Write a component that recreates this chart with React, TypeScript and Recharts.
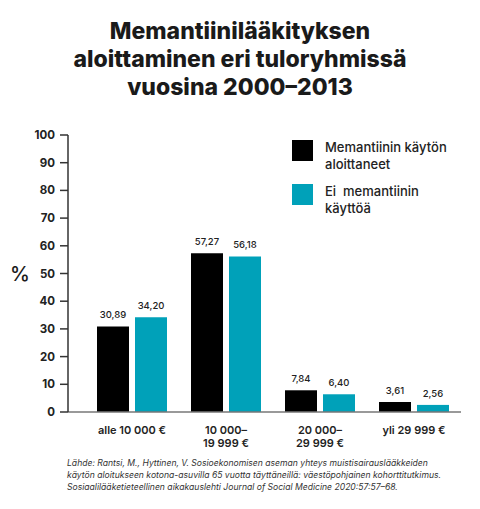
import React from "react";
import { Bar, BarChart, LabelList, Legend, XAxis, YAxis } from "recharts";

const TULORYHMAT = ["alle 10 000 €", "10 000–\n19 999 €", "20 000–\n29 999 €", "yli 29 999 €"];
const ALOITTANEET = [30.89, 57.27, 7.84, 3.61];
const EI_KAYTTOA = [34.2, 56.18, 6.4, 2.56];
const Y_TICKS = [0, 10, 20, 30, 40, 50, 60, 70, 80, 90, 100];

const MUSTA = "#000000";
const TURKOOSI = "#00a1b9";
const FONTTI = "Inter, 'Noto Sans', sans-serif";

const data = TULORYHMAT.map((ryhma, i) => ({
  ryhma,
  aloittaneet: ALOITTANEET[i],
  ei: EI_KAYTTOA[i],
}));

const muoto = (v: number) => v.toFixed(2).replace(".", ",");

function XTick({ x, y, payload }: any) {
  const rivit = String(payload.value).split("\n");
  return (
    <text x={x} y={y} textAnchor="middle" fontSize={11} fontWeight={600} fill="#222" fontFamily={FONTTI}>
      {rivit.map((r, i) => (
        <tspan key={i} x={x} dy={i === 0 ? 14 : 13}>
          {r}
        </tspan>
      ))}
    </text>
  );
}

function Selite({ payload }: any) {
  return (
    <div style={{ fontFamily: FONTTI }}>
      {payload.map((p: any) => (
        <div key={p.value} style={{ display: "flex", alignItems: "flex-start", marginBottom: 10 }}>
          <div style={{ width: 21, height: 21, background: p.color, marginRight: 12, marginTop: 1 }} />
          <div style={{ fontSize: 13, fontWeight: 500, lineHeight: "17px", color: "#222", whiteSpace: "pre" }}>
            {p.value}
          </div>
        </div>
      ))}
    </div>
  );
}

export default function App() {
  return (
    <div style={{ position: "absolute", left: 0, top: 0, width: 480, height: 509, background: "#fff", fontFamily: FONTTI }}>
      <div
        style={{
          position: "absolute",
          top: 17,
          left: 0,
          width: 480,
          textAlign: "center",
          fontSize: 23,
          fontWeight: 800,
          lineHeight: "28px",
          color: "#1a1a1a",
        }}
      >
        Memantiinilääkityksen
        <br />
        aloittaminen eri tuloryhmissä
        <br />
        vuosina 2000–2013
      </div>
      <div style={{ position: "absolute", left: 10, top: 262, fontSize: 20, fontWeight: 500, color: "#1a1a1a" }}>%</div>
      <div style={{ position: "absolute", left: 0, top: 0 }}>
        <BarChart
          width={480}
          height={509}
          data={data}
          margin={{ top: 135, right: 19, bottom: 67, left: 28 }}
          barSize={32}
          barGap={6}
        >
          <XAxis
            dataKey="ryhma"
            tick={<XTick />}
            tickLine={false}
            axisLine={{ stroke: "#777", strokeWidth: 1.5 }}
            padding={{ left: 17, right: 0 }}
            height={30}
            interval={0}
          />
          <YAxis
            domain={[0, 100]}
            ticks={Y_TICKS}
            width={40}
            tickSize={8}
            tickMargin={5}
            tick={{ fontSize: 11.5, fontWeight: 700, fill: "#222", fontFamily: FONTTI }}
            axisLine={{ stroke: "#333", strokeWidth: 1.5 }}
            tickLine={{ stroke: "#333", strokeWidth: 1.5 }}
          />
          <Legend
            layout="vertical"
            verticalAlign="middle"
            align="center"
            itemSorter="dataKey"
            content={<Selite />}
            wrapperStyle={{ position: "absolute", left: 292, top: 139, width: 180 }}
          />
          <Bar dataKey="aloittaneet" name={"Memantiinin käytön\naloittaneet"} fill={MUSTA} isAnimationActive={false}>
            <LabelList dataKey="aloittaneet" position="top" offset={8} formatter={muoto} fontSize={9.5} fontWeight={500} fill="#222" fontFamily={FONTTI} />
          </Bar>
          <Bar dataKey="ei" name={"Ei  memantiinin\nkäyttöä"} fill={TURKOOSI} isAnimationActive={false}>
            <LabelList dataKey="ei" position="top" offset={8} formatter={muoto} fontSize={9.5} fontWeight={500} fill="#222" fontFamily={FONTTI} />
          </Bar>
        </BarChart>
      </div>
      <div
        style={{
          position: "absolute",
          left: 67,
          top: 457,
          fontSize: 8.6,
          fontStyle: "italic",
          lineHeight: "12px",
          color: "#333",
          whiteSpace: "nowrap",
        }}
      >
        Lähde: Rantsi, M., Hyttinen, V. Sosioekonomisen aseman yhteys muistisairauslääkkeiden
        <br />
        käytön aloitukseen kotona-asuvilla 65 vuotta täyttäneillä: väestöpohjainen kohorttitutkimus.
        <br />
        Sosiaalilääketieteellinen aikakauslehti Journal of Social Medicine 2020:57:57–68.
      </div>
    </div>
  );
}
